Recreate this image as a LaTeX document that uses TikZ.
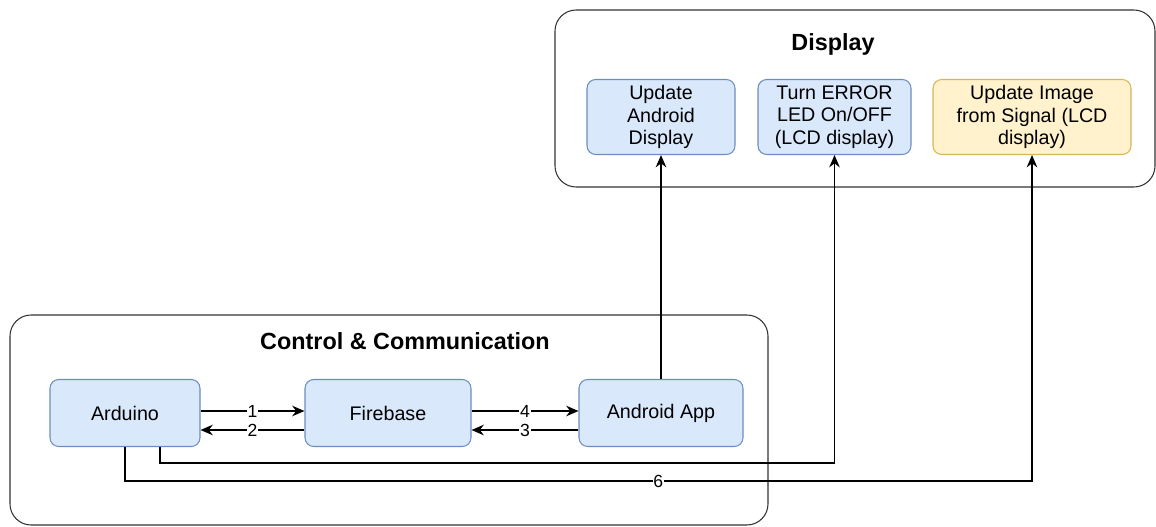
\documentclass[tikz,border=0pt]{standalone}
\usepackage{fontspec}
\setmainfont{Liberation Sans}
\usetikzlibrary{positioning, arrows.meta, calc}
\definecolor{boxblue}{HTML}{DAE8FC}
\definecolor{boxblueline}{HTML}{6C8EBF}
\definecolor{boxyellow}{HTML}{FFF2CC}
\definecolor{boxyellowline}{HTML}{D6B656}
\tikzset{
    procbox/.style={rectangle, rounded corners=5pt, draw=boxblueline, fill=boxblue, minimum height=1.5cm, align=center, font=\fontsize{11.2}{12.8}\selectfont, line width=0.6pt, inner sep=1pt},
    imgbox/.style={procbox, draw=boxyellowline, fill=boxyellow},
    groupbox/.style={rounded corners=12pt, draw=black!80, line width=0.6pt},
    grouplbl/.style={font=\fontsize{13.3}{15}\selectfont\bfseries},
    arr/.style={-{Stealth[length=7pt, width=6pt]}, line width=0.8pt, color=black},
    numlbl/.style={font=\fontsize{10}{11}\selectfont, fill=white, inner sep=0.5pt}
}
\begin{document}
\begin{tikzpicture}
    \useasboundingbox (0,0) rectangle (23.12,-10.54);
    % groups
    \draw[groupbox] (11.1,-0.2) rectangle (23.1,-3.74);
    \draw[groupbox] (0.2,-6.3) rectangle (15.36,-10.5);
    \node[grouplbl] at (16.66,-0.88) (tdisp) {Display};
    \node[grouplbl] at (8.1,-6.82) (tctrl) {Control \& Communication};
    % display boxes
    \node[procbox, minimum width=2.96cm] at (13.22,-2.34) (andisp) {Update\\Android\\Display};
    \node[procbox, minimum width=3.06cm] at (16.69,-2.34) (errled) {Turn ERROR\\LED On/OFF\\(LCD display)};
    \node[imgbox, minimum width=3.96cm] at (20.64,-2.34) (lcdimg) {Update Image\\from Signal (LCD\\display)};
    % control boxes
    \node[procbox, minimum width=3.0cm, minimum height=1.34cm] at (2.5,-8.26) (ard) {Arduino};
    \node[procbox, minimum width=3.32cm, minimum height=1.34cm] at (7.76,-8.26) (fb) {Firebase};
    \node[procbox, minimum width=3.28cm, minimum height=1.34cm] at (13.22,-8.26) (app) {Android App};
    % connectors
    \draw[arr] ([yshift=0.04cm]ard.east) -- node[numlbl] {1} ([yshift=0.04cm]fb.west);
    \draw[arr] ([yshift=-0.34cm]fb.west) -- node[numlbl] {2} ([yshift=-0.34cm]ard.east);
    \draw[arr] ([yshift=0.04cm]fb.east) -- node[numlbl] {4} ([yshift=0.04cm]app.west);
    \draw[arr] ([yshift=-0.34cm]app.west) -- node[numlbl] {3} ([yshift=-0.34cm]fb.east);
    \draw[arr] (app.north) -- (andisp.south);
    \draw[arr] ([xshift=0.7cm]ard.south) -- ++(0,-0.32) -| (errled.south);
    \draw[arr] (ard.south) -- ++(0,-0.68) -| node[numlbl, pos=0.294] {6} (lcdimg.south);
\end{tikzpicture}
\end{document}
